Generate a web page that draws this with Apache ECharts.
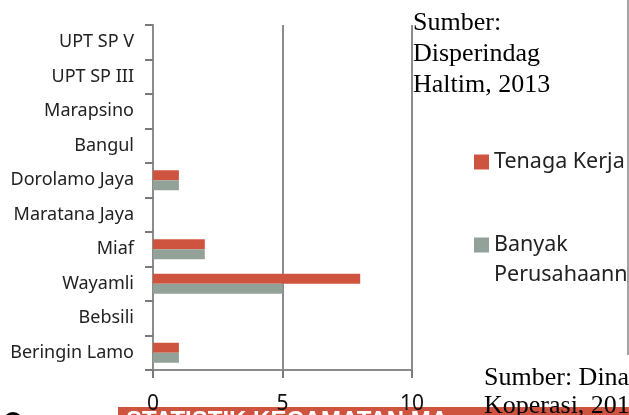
<!DOCTYPE html>
<html>
<head>
<meta charset="utf-8">
<script src="https://cdn.jsdelivr.net/npm/echarts@6/dist/echarts.min.js"></script>
<style>
  html, body { margin: 0; padding: 0; background: #fff; }
  #main { width: 629px; height: 415px; }
</style>
</head>
<body>
<div id="main"></div>
<script>
// bottom to top, as the category axis draws them
var desa = ['Beringin Lamo', 'Bebsili', 'Wayamli', 'Miaf', 'Maratana Jaya',
  'Dorolamo Jaya', 'Bangul', 'Marapsino', 'UPT SP III', 'UPT SP V'];
var tenagaKerja = [1, 0, 8, 2, 0, 1, 0, 0, 0, 0];
var banyakPerusahaan = [1, 0, 5, 2, 0, 1, 0, 0, 0, 0];
var xTicks = [0, 5, 10];

var merah = '#cf543f';
var abu = '#93a299';
var garis = '#8c8c8c';

var myChart = echarts.init(document.getElementById('main'));
var option = {
  animation: false,
  grid: { left: 153, right: 217, top: 25, bottom: 45 },
  legend: [{
    data: ['Tenaga Kerja'],
    left: 469, top: 146,
    itemWidth: 15, itemHeight: 15, itemGap: 0,
    icon: 'rect',
    textStyle: { fontFamily: 'Noto Sans', fontSize: 21.5, color: '#222' }
  }, {
    data: ['Banyak Perusahaann'],
    left: 469, top: 195,
    itemWidth: 15, itemHeight: 15,
    icon: 'rect',
    // leading empty line keeps the square beside the first line
    formatter: function (name) { return ' \nBanyak\nPerusahaann'; },
    textStyle: { fontFamily: 'Noto Sans', fontSize: 21.5, lineHeight: 30, color: '#222' }
  }],
  xAxis: {
    type: 'value',
    min: xTicks[0], max: xTicks[xTicks.length - 1], interval: 5,
    axisLine: { show: true, onZero: false, lineStyle: { color: garis, width: 2 } },
    axisTick: { show: true, inside: false, length: 8, lineStyle: { color: '#7a7a7a', width: 2 } },
    splitLine: { show: true, lineStyle: { color: garis, width: 2 } },
    axisLabel: { fontFamily: 'Noto Sans', fontSize: 21, color: '#111', margin: 24 }
  },
  yAxis: {
    type: 'category',
    data: desa,
    axisLine: { show: true, onZero: false, lineStyle: { color: garis, width: 2 } },
    axisTick: { show: true, inside: false, interval: 0, alignWithLabel: false, length: 8, lineStyle: { color: '#7a7a7a', width: 2 } },
    axisLabel: { fontFamily: 'Noto Sans', fontSize: 18, color: '#222', margin: 19 }
  },
  series: [{
    name: 'Tenaga Kerja',
    type: 'bar',
    data: tenagaKerja,
    barWidth: 10,
    barGap: '0%',
    itemStyle: { color: merah }
  }, {
    name: 'Banyak Perusahaann',
    type: 'bar',
    data: banyakPerusahaan,
    barWidth: 10,
    barGap: '0%',
    itemStyle: { color: abu }
  }],
  graphic: [
    { type: 'line', z: 10, shape: { x1: 628, y1: 0, x2: 628, y2: 355 },
      style: { stroke: '#a3a3a3', lineWidth: 2 } },
    { type: 'text', z: 100, left: 413, top: 8,
      style: { text: 'Sumber:\nDisperindag\nHaltim, 2013', fontFamily: 'Liberation Serif',
        fontSize: 26, lineHeight: 31, fill: '#000' } },
    { type: 'rect', z: -1, shape: { x: 118, y: 407, width: 511, height: 10 },
      style: { fill: merah } },
    { type: 'text', z: 0, left: 126, top: 409,
      style: { text: 'STATISTIK KECAMATAN MA', fontFamily: 'Liberation Sans',
        fontWeight: 'bold', fontSize: 24, fill: '#fff' } },
    { type: 'circle', z: 10, shape: { cx: 13, cy: 422, r: 10 },
      style: { fill: '#000' } },
    { type: 'text', z: 100, left: 484, top: 364,
      style: { text: 'Sumber: Dinas\nKoperasi, 2013', fontFamily: 'Liberation Serif',
        fontSize: 26, lineHeight: 28, fill: '#000' } }
  ]
};
myChart.setOption(option);
</script>
</body>
</html>
